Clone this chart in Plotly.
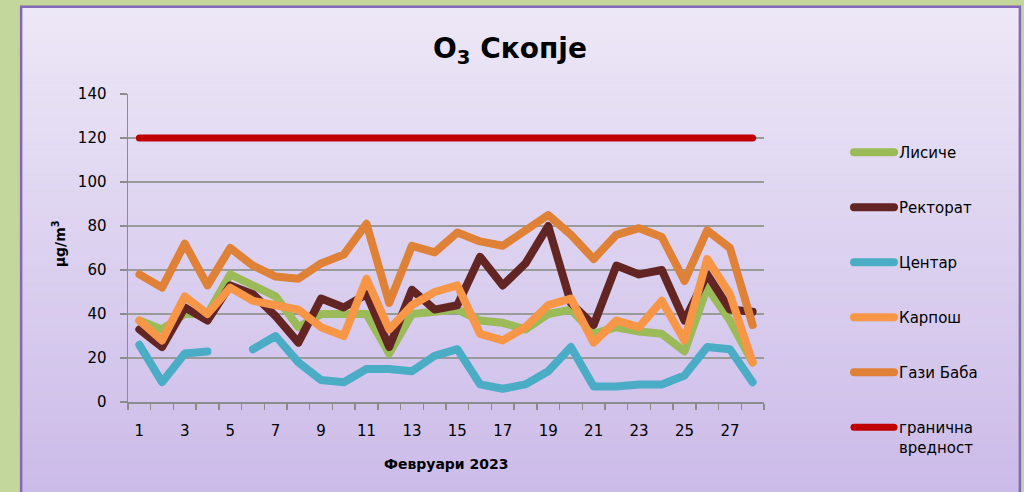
import plotly.graph_objects as go

days = list(range(1, 29))
tick_days = list(range(1, 29, 2))

lisiche = [37, 33, 40, 40, 58, 53, 48, 34, 40, 40, 40, 22, 40, 41, 42, 37, 36, 33, 40, 42,
           31, 34, 32, 31, 23, 52, 37, 18]
rektorat = [33, 25, 43, 37, 53, 49, 39, 27, 47, 43, 49, 25, 51, 42, 44, 66, 53, 63, 80, 45,
            35, 62, 58, 60, 37, 58, 42, 41]
centar = [26, 9, 22, 23, None, 24, 30, 18, 10, 9, 15, 15, 14, 21, 24, 8, 6, 8, 14, 25,
          7, 7, 8, 8, 12, 25, 24, 9]
karposh = [37, 28, 48, 40, 52, 46, 44, 42, 34, 30, 56, 33, 44, 50, 53, 31, 28, 34, 44, 47,
           27, 37, 34, 46, 28, 65, 49, 18]
gazi_baba = [58, 52, 72, 53, 70, 62, 57, 56, 63, 67, 81, 45, 71, 68, 77, 73, 71, 78, 85, 76,
             65, 76, 79, 75, 55, 78, 70, 35]
limit = [120] * 28

series = [
    ("Лисиче", lisiche, "#9BBB59"),
    ("Ректорат", rektorat, "#632523"),
    ("Центар", centar, "#4BACC6"),
    ("Карпош", karposh, "#F79646"),
    ("Гази Баба", gazi_baba, "#DF8238"),
    ("гранична<br>вредност", limit, "#C00000"),
]

FONT = "DejaVu Sans, sans-serif"

fig = go.Figure()
for i, (name, vals, col) in enumerate(series):
    fig.add_trace(go.Scatter(
        x=days, y=vals, name=name, mode="lines",
        line=dict(color=col, width=8 if i < 5 else 7),
        legendgroup=f"g{i}", connectgaps=False, hoverinfo="skip",
    ))

W, H = 1024, 492
L, R, T, B = 127.5, 764.3, 94.3, 402.3
pw, ph = R - L, B - T

def px(xs):
    return (xs - L) / pw

def py(ys):
    return (B - ys) / ph

# gradient background panel
shapes = []
top = (237, 232, 247)
bot = (202, 185, 232)
y0s, y1s = 7, 510
n = 60
for k in range(n):
    a = y0s + (y1s - y0s) * k / n
    b = y0s + (y1s - y0s) * (k + 1) / n
    t = (k + 0.5) / n
    c = tuple(round(top[j] + (bot[j] - top[j]) * t) for j in range(3))
    shapes.append(dict(type="rect", xref="paper", yref="paper",
                       x0=px(21), x1=px(1020), y0=py(a), y1=py(b + 0.5),
                       fillcolor=f"rgb{c}", line=dict(width=0), layer="below"))
shapes.append(dict(type="rect", xref="paper", yref="paper",
                   x0=px(20.5), x1=px(1020.5), y0=py(7), y1=py(530),
                   fillcolor="rgba(0,0,0,0)", line=dict(color="#8567B8", width=2.5),
                   layer="below"))

fig.update_layout(
    width=W, height=H,
    margin=dict(l=L, r=W - R, t=T, b=H - B, autoexpand=False),
    paper_bgcolor="#C3D69B",
    plot_bgcolor="rgba(0,0,0,0)",
    font=dict(family=FONT, color="#000000", size=14),
    shapes=shapes,
    title=dict(text="<b>O<sub>3</sub> Скопје</b>", x=510 / W, xref="container",
               y=1 - 48 / H, yref="container", xanchor="center", yanchor="middle",
               font=dict(size=28, family=FONT, color="#000000")),
    showlegend=True,
    legend=dict(xref="container", yref="container", x=849 / W,
                y=1 - 136 / H,
                xanchor="left", yanchor="top", traceorder="grouped",
                tracegroupgap=32.5, valign="top", bgcolor="rgba(0,0,0,0)",
                font=dict(size=15, family=FONT, color="#000000"),
                itemwidth=40, maxheight=600),
    annotations=[
        dict(text="<b>μg/m<sup>3</sup></b>", xref="paper", yref="paper",
             x=px(58), y=py(244), textangle=-90, showarrow=False,
             xanchor="center", yanchor="middle",
             font=dict(size=14, family=FONT, color="#000000")),
        dict(text="<b>Февруари 2023</b>", xref="paper", yref="paper",
             x=0.5, y=py(464), showarrow=False, xanchor="center", yanchor="middle",
             font=dict(size=14, family=FONT, color="#000000")),
    ],
)

fig.update_xaxes(
    range=[0.5, 28.5], tickmode="array", tickvals=tick_days,
    ticktext=[str(d) for d in tick_days], ticks="", showgrid=False,
    showline=True, linecolor="#8C8C8C", linewidth=1.5, zeroline=False,
    ticklabelstandoff=14,
    minor=dict(tickmode="linear", tick0=0.5, dtick=1, ticks="outside",
               ticklen=6, tickcolor="#8C8C8C", tickwidth=1.5, showgrid=False),
    tickfont=dict(size=15, family=FONT),
)
fig.update_yaxes(
    range=[0, 140], dtick=20, tick0=0, showgrid=True, gridcolor="#9A9A9A",
    gridwidth=1.5, showline=True, linecolor="#8C8C8C", linewidth=1.5,
    ticks="outside", ticklen=7, tickcolor="#8C8C8C", tickwidth=1.5,
    zeroline=False, ticklabelstandoff=10,
    tickfont=dict(size=15, family=FONT),
)

post = (
    "document.body.style.margin='0';"
    "document.body.style.overflow='hidden';"
    "document.querySelectorAll('.js-line').forEach(function(p){"
    "p.style.strokeLinecap='round';p.style.strokeLinejoin='round';});"
)

fig.write_html("out.html", post_script=post,
               config={"displayModeBar": False, "staticPlot": True})
